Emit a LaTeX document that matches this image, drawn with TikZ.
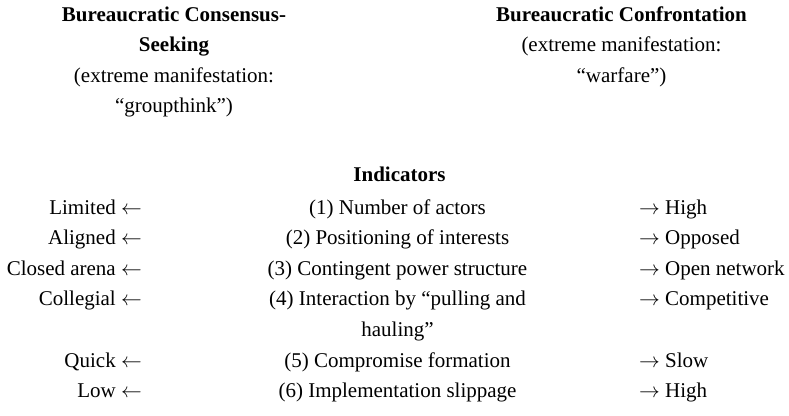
\documentclass[tikz,border=0pt]{standalone}
\usepackage{fontspec}
\setmainfont{Liberation Serif}
\begin{document}
\begin{tikzpicture}[x=1pt,y=1pt,
  txt/.style={inner sep=0pt, font=\fontsize{21}{25}\selectfont},
  lefttxt/.style={txt, anchor=base east},
  midtxt/.style={txt, anchor=base},
  righttxt/.style={txt, anchor=base west},
  head/.style={txt, anchor=base, font=\fontsize{21}{25}\selectfont\bfseries}]
\useasboundingbox (0,0) rectangle (789,-415);
% titles
\node[head] (lt1) at (174,-21) {Bureaucratic Consensus-};
\node[head] (lt2) at (174,-51.5) {Seeking};
\node[midtxt] (lt3) at (174,-82) {(extreme manifestation:};
\node[midtxt] (lt4) at (174,-112.5) {“groupthink”)};
\node[head] (rt1) at (621.5,-21) {Bureaucratic Confrontation};
\node[midtxt] (rt2) at (621.5,-51.5) {(extreme manifestation:};
\node[midtxt] (rt3) at (621.5,-82) {“warfare”)};
\node[head] (ind) at (399.5,-181) {Indicators};
% rows
\node[lefttxt] (l1) at (142,-214) {Limited $\leftarrow$};
\node[midtxt] (m1) at (397.5,-214) {(1) Number of actors};
\node[righttxt] (r1) at (639,-214) {$\rightarrow$ High};
\node[lefttxt] (l2) at (142,-244.6) {Aligned $\leftarrow$};
\node[midtxt] (m2) at (397.5,-244.6) {(2) Positioning of interests};
\node[righttxt] (r2) at (639,-244.6) {$\rightarrow$ Opposed};
\node[lefttxt] (l3) at (142,-275.2) {Closed arena $\leftarrow$};
\node[midtxt] (m3) at (397.5,-275.2) {(3) Contingent power structure};
\node[righttxt] (r3) at (639,-275.2) {$\rightarrow$ Open network};
\node[lefttxt] (l4) at (142,-305.8) {Collegial $\leftarrow$};
\node[midtxt] (m4) at (397.5,-305.8) {(4) Interaction by “pulling and};
\node[midtxt] (m4b) at (397.5,-336.4) {hauling”};
\node[righttxt] (r4) at (639,-305.8) {$\rightarrow$ Competitive};
\node[lefttxt] (l5) at (142,-367) {Quick $\leftarrow$};
\node[midtxt] (m5) at (397.5,-367) {(5) Compromise formation};
\node[righttxt] (r5) at (639,-367) {$\rightarrow$ Slow};
\node[lefttxt] (l6) at (142,-397.6) {Low $\leftarrow$};
\node[midtxt] (m6) at (397.5,-397.6) {(6) Implementation slippage};
\node[righttxt] (r6) at (639,-397.6) {$\rightarrow$ High};
\end{tikzpicture}
\end{document}
